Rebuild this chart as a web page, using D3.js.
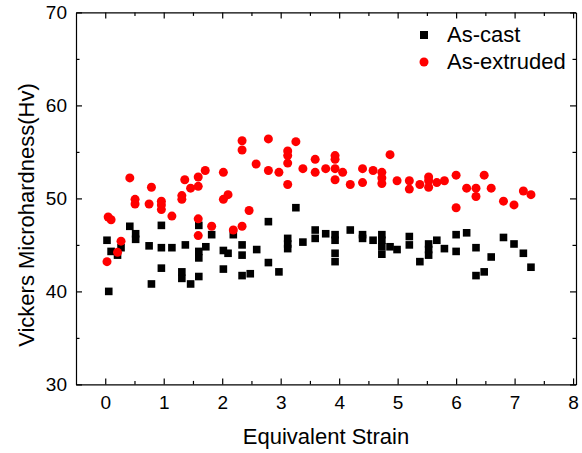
<!DOCTYPE html>
<html lang="en">
<head>
<meta charset="UTF-8">
<title>Vickers Microhardness</title>
<script src="https://d3js.org/d3.v7.min.js"></script>
<style>
  body { margin: 0; background: #fff; }
  svg text { font-family: "Liberation Sans", Arial, sans-serif; fill: #000; }
  .axis path, .axis line { stroke: #000; stroke-width: 1.2px; }
</style>
</head>
<body>
<div id="chart"></div>
<script>
// As-cast series (equivalent strain, hardness)
const castX = [0.03,0.06,0.10,0.21,0.27,0.42,0.52,0.52,0.75,0.79,0.96,0.96,0.96,1.14,1.31,1.31,1.37,1.46,1.60,1.60,1.60,1.60,1.72,1.82,2.02,2.10,2.02,2.19,2.34,2.34,2.34,2.48,2.59,2.79,2.79,2.97,3.12,3.12,3.12,3.26,3.38,3.59,3.59,3.77,3.93,3.93,3.93,3.93,4.19,4.40,4.40,4.58,4.73,4.73,4.73,4.73,4.87,4.99,5.20,5.20,5.38,5.53,5.53,5.53,5.67,5.80,6.00,6.00,6.18,6.34,6.34,6.48,6.60,6.81,6.99,7.15,7.28];
const castY = [45.5,40.0,44.3,43.9,44.7,47.0,46.2,45.6,44.9,40.8,47.1,44.7,42.5,44.7,42.1,41.4,45.0,40.8,47.1,44.3,43.6,41.6,44.8,46.1,44.4,44.1,42.4,46.1,45.0,43.9,41.7,41.9,44.5,47.5,43.1,42.1,45.7,45.1,44.6,49.0,45.3,46.6,45.7,46.2,46.1,45.5,44.1,43.2,46.6,46.1,45.7,45.5,46.1,45.5,44.8,44.0,44.8,44.5,45.9,45.0,43.2,45.1,44.5,43.9,45.5,44.6,46.1,44.3,46.3,44.7,41.7,42.1,43.7,45.8,45.1,44.1,42.6];

// As-extruded series
const extX = [0.03,0.05,0.10,0.21,0.27,0.42,0.51,0.51,0.75,0.79,0.96,0.96,0.96,1.14,1.31,1.31,1.36,1.46,1.59,1.59,1.59,1.59,1.71,1.82,2.02,2.02,2.10,2.19,2.34,2.34,2.34,2.46,2.58,2.79,2.79,2.97,3.12,3.12,3.12,3.12,3.26,3.38,3.59,3.59,3.77,3.93,3.93,3.93,3.93,4.06,4.19,4.40,4.40,4.58,4.73,4.73,4.73,4.87,4.99,5.20,5.20,5.38,5.53,5.53,5.53,5.67,5.80,6.00,6.00,6.18,6.34,6.34,6.48,6.60,6.81,6.99,7.15,7.28];
const extY = [43.2,48.0,47.7,44.2,45.4,52.2,49.9,49.4,49.4,51.2,49.7,49.3,48.8,48.1,50.3,49.9,52.0,51.1,52.3,51.3,47.8,46.0,53.0,47.0,52.8,49.9,50.4,46.6,56.2,55.2,47.0,48.7,53.7,56.4,53.0,52.8,55.1,54.6,53.8,51.5,56.1,53.2,54.2,52.8,53.2,54.6,54.2,53.2,52.0,52.8,51.5,53.2,51.7,53.0,52.8,52.2,51.6,54.7,51.9,51.9,51.0,51.5,52.3,51.9,51.2,51.7,51.9,52.5,49.0,51.1,51.1,50.2,52.5,51.1,49.7,49.3,50.8,50.4];

const xTicks = [0,1,2,3,4,5,6,7,8];
const xMinor = [0.5,1.5,2.5,3.5,4.5,5.5,6.5,7.5];
const yTicks = [30,40,50,60,70];
const yMinor = [35,45,55,65];
const seriesNames = ["As-cast","As-extruded"];

const W = 582, H = 453;
const svg = d3.select("#chart").append("svg")
  .attr("width", W).attr("height", H);

const x = d3.scaleLinear().domain([-0.5, 8.05]).range([76, 576]);
const y = d3.scaleLinear().domain([30, 70]).range([384.4, 12.4]);

const plotLeft = x.range()[0], plotRight = x.range()[1];
const plotTop = y.range()[1], plotBottom = y.range()[0];

// minor ticks (all four sides)
function minorAxis(axis, pos, vals) {
  svg.append("g").attr("class", "axis")
    .attr("transform", pos)
    .call(axis.tickValues(vals).tickSize(-3.5).tickSizeOuter(0).tickFormat(""))
    .call(g => g.select(".domain").remove());
}
minorAxis(d3.axisBottom(x), `translate(0,${plotBottom})`, xMinor);
minorAxis(d3.axisTop(x), `translate(0,${plotTop})`, xMinor);
minorAxis(d3.axisLeft(y), `translate(${plotLeft},0)`, yMinor);
minorAxis(d3.axisRight(y), `translate(${plotRight},0)`, yMinor);

// major axes
svg.append("g").attr("class", "axis")
  .attr("transform", `translate(0,${plotBottom})`)
  .call(d3.axisBottom(x).tickValues(xTicks).tickSize(-6).tickSizeOuter(0).tickPadding(11))
  .call(g => g.selectAll("text").style("font-size", "19px"));

svg.append("g").attr("class", "axis")
  .attr("transform", `translate(0,${plotTop})`)
  .call(d3.axisTop(x).tickValues(xTicks).tickSize(-6).tickSizeOuter(0).tickFormat(""));

svg.append("g").attr("class", "axis")
  .attr("transform", `translate(${plotLeft},0)`)
  .call(d3.axisLeft(y).tickValues(yTicks).tickSize(-6).tickSizeOuter(0).tickPadding(9))
  .call(g => g.selectAll("text").style("font-size", "19px"));

svg.append("g").attr("class", "axis")
  .attr("transform", `translate(${plotRight},0)`)
  .call(d3.axisRight(y).tickValues(yTicks).tickSize(-6).tickSizeOuter(0).tickFormat(""));

// axis titles
svg.append("text")
  .attr("x", 326).attr("y", 444)
  .attr("text-anchor", "middle")
  .style("font-size", "22px")
  .text("Equivalent Strain");

svg.append("text")
  .attr("transform", "translate(34,215) rotate(-90)")
  .attr("text-anchor", "middle")
  .style("font-size", "22px")
  .text("Vickers Microhardness(Hv)");

// points
const cast = castX.map((d, i) => ({x: d, y: castY[i]}));
const ext = extX.map((d, i) => ({x: d, y: extY[i]}));
const sq = 7.6;

svg.append("g").selectAll("rect")
  .data(cast)
  .join("rect")
    .attr("x", d => x(d.x) - sq / 2)
    .attr("y", d => y(d.y) - sq / 2)
    .attr("width", sq).attr("height", sq)
    .attr("fill", "#000");

svg.append("g").selectAll("circle")
  .data(ext)
  .join("circle")
    .attr("cx", d => x(d.x))
    .attr("cy", d => y(d.y))
    .attr("r", 4.5)
    .attr("fill", "#ff0000");

// legend
const legend = svg.append("g").attr("transform", "translate(424,35)");
legend.append("rect")
  .attr("x", -4).attr("y", -4).attr("width", 8).attr("height", 8)
  .attr("fill", "#000");
legend.append("text")
  .attr("x", 23).attr("y", 7)
  .style("font-size", "22px")
  .text(seriesNames[0]);
legend.append("circle")
  .attr("cx", 0).attr("cy", 27).attr("r", 4.5)
  .attr("fill", "#ff0000");
legend.append("text")
  .attr("x", 23).attr("y", 34)
  .style("font-size", "22px")
  .text(seriesNames[1]);
</script>
</body>
</html>
